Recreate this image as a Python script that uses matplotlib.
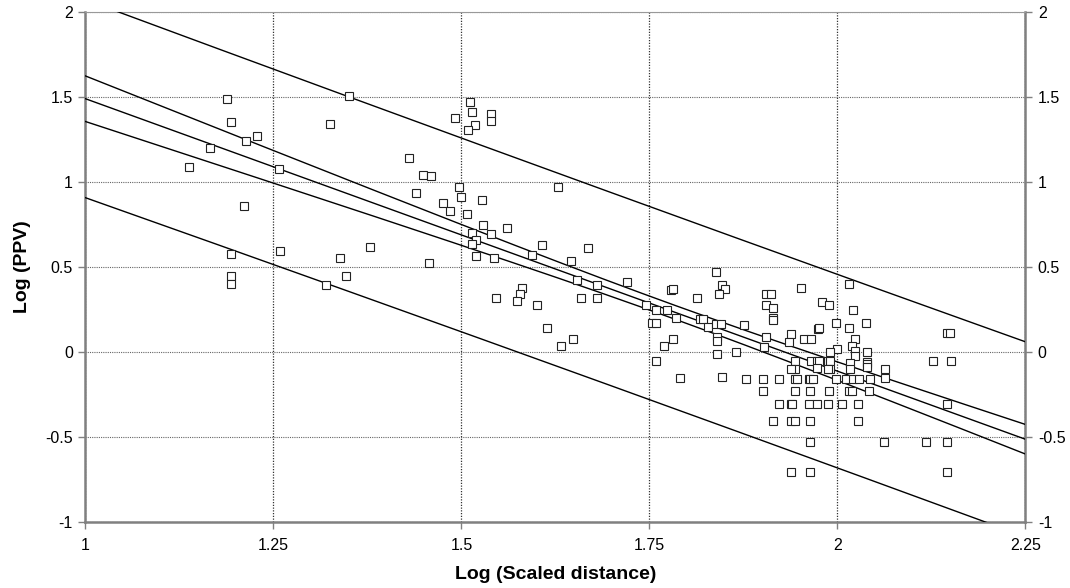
import numpy as np
import matplotlib
matplotlib.use("Agg")
import matplotlib.pyplot as plt
from matplotlib import font_manager

# ---------------- data ----------------
log_sd = [
    1.188, 1.194, 1.228, 1.214, 1.165, 1.138, 1.257, 1.350, 1.325, 1.211, 1.194, 1.259, 1.194, 1.194,
    1.339, 1.379, 1.347, 1.320,
    1.512, 1.514, 1.492, 1.540, 1.540, 1.518, 1.509, 1.430, 1.449, 1.459, 1.629, 1.497, 1.500, 1.440,
    1.476, 1.485, 1.527, 1.507, 1.529, 1.561, 1.540, 1.514, 1.520, 1.514, 1.520, 1.544, 1.457, 1.607,
    1.594, 1.669, 1.646, 1.654, 1.680, 1.720, 1.581, 1.578, 1.574, 1.546, 1.601, 1.659, 1.680, 1.614,
    1.648, 1.632, 1.746, 1.759, 1.774, 1.754, 1.759, 1.769, 1.782, 1.759, 1.791, 1.779, 1.782, 1.814,
    1.786,
    1.838, 1.847, 1.851, 1.842, 1.818, 1.822, 1.828, 1.838, 1.845, 1.876, 1.840, 1.840, 1.840, 1.865,
    1.846, 1.879,
    1.905, 1.912, 1.905, 1.914, 1.914, 1.914, 1.952, 1.980, 1.989, 2.016, 2.021, 1.998, 2.015, 2.038,
    1.974, 1.975, 2.024, 1.905, 1.902, 1.939, 1.936, 1.956, 1.965, 2.000, 1.990, 2.019, 2.024, 2.024,
    2.040, 2.040, 2.040, 2.040, 1.944, 1.944, 1.939, 1.965, 1.973, 1.976, 1.973, 1.987, 1.990, 1.990,
    1.987, 2.017, 2.017, 2.063, 2.063, 1.901, 1.923, 1.944, 1.947, 1.962, 1.964, 1.968, 1.998, 2.011,
    2.021, 2.029, 2.044, 1.901, 1.944, 1.963, 1.989, 2.015, 2.020, 2.042, 1.923, 1.938, 1.940, 1.962,
    1.973, 1.987, 2.006, 2.028, 2.146, 1.914, 1.938, 1.944, 1.963, 2.027, 1.963, 2.062, 2.118, 2.146,
    1.938, 1.963, 2.146, 2.146, 2.150, 2.127, 2.151,
]
log_ppv = [
    1.487, 1.353, 1.269, 1.239, 1.198, 1.085, 1.076, 1.502, 1.339, 0.857, 0.573, 0.594, 0.445, 0.396,
    0.551, 0.614, 0.445, 0.394,
    1.467, 1.410, 1.376, 1.396, 1.359, 1.332, 1.304, 1.139, 1.041, 1.034, 0.971, 0.969, 0.912, 0.933,
    0.877, 0.829, 0.892, 0.812, 0.743, 0.730, 0.694, 0.700, 0.659, 0.635, 0.565, 0.551, 0.524, 0.629,
    0.569, 0.608, 0.535, 0.422, 0.394, 0.408, 0.373, 0.339, 0.296, 0.316, 0.273, 0.316, 0.316, 0.137,
    0.075, 0.033, 0.273, 0.245, 0.245, 0.167, 0.167, 0.033, 0.075, -0.053, -0.153, 0.361, 0.371, 0.316,
    0.198,
    0.471, 0.392, 0.371, 0.338, 0.192, 0.192, 0.145, 0.165, 0.165, 0.159, 0.088, 0.065, -0.012, -0.004,
    -0.147, -0.161,
    0.338, 0.338, 0.275, 0.259, 0.196, 0.185, 0.373, 0.292, 0.275, 0.396, 0.245, 0.167, 0.137, 0.167,
    0.133, 0.137, 0.075, 0.088, 0.029, 0.102, 0.057, 0.075, 0.075, 0.018, -0.004, 0.034, 0.004, -0.024,
    -0.004, -0.059, -0.072, -0.090, -0.053, -0.102, -0.102, -0.053, -0.053, -0.053, -0.096, -0.053, -0.053, -0.100,
    -0.100, -0.065, -0.104, -0.102, -0.157, -0.159, -0.159, -0.159, -0.159, -0.159, -0.159, -0.159, -0.159, -0.159,
    -0.159, -0.159, -0.159, -0.231, -0.231, -0.231, -0.231, -0.231, -0.231, -0.229, -0.310, -0.310, -0.310, -0.310,
    -0.310, -0.310, -0.310, -0.310, -0.310, -0.410, -0.410, -0.410, -0.410, -0.410, -0.529, -0.529, -0.529, -0.529,
    -0.706, -0.706, -0.706, 0.110, 0.110, -0.053, -0.053,
]

# regression line and bands
fit_intercept = 3.090
fit_slope = -1.602
conf_a = 0.00165      # squared half-width of confidence band at centre
conf_b = 0.0268
conf_centre = 1.78
pred_var = 0.321      # extra variance of prediction band

x_ticks = [1, 1.25, 1.5, 1.75, 2, 2.25]
x_ticklabels = ["1", "1.25", "1.5", "1.75", "2", "2.25"]
y_ticks = [-1, -0.5, 0, 0.5, 1, 1.5, 2]
y_ticklabels = ["-1", "-0.5", "0", "0.5", "1", "1.5", "2"]

# ---------------- style ----------------
tick_font = "Liberation Sans"
label_font = "Liberation Sans"

fig = plt.figure(figsize=(10.70, 5.88), dpi=100)
ax = fig.add_axes([0.0799, 0.1127, 0.8783, 0.8674])

xs = np.linspace(1.0, 2.25, 300)
centre = fit_intercept + fit_slope * xs
hc = np.sqrt(conf_a + conf_b * (xs - conf_centre) ** 2)
hp = np.sqrt(pred_var + hc ** 2)
for yy in (centre, centre + hc, centre - hc, centre + hp, centre - hp):
    ax.plot(xs, yy, color="black", lw=1.0, zorder=3)

ax.plot(log_sd, log_ppv, linestyle="none", marker="s", markersize=5.6,
        markerfacecolor="white", markeredgecolor="#222222", markeredgewidth=0.8, zorder=4)

ax.set_xlim(1, 2.25)
ax.set_ylim(-1, 2)
ax.set_xticks(x_ticks)
ax.set_xticklabels(x_ticklabels)
ax.set_yticks(y_ticks)
ax.set_yticklabels(y_ticklabels)

ax.xaxis.grid(True, color="#333333", linestyle=(0, (1, 1.2)), linewidth=0.9, zorder=0)
ax.yaxis.grid(True, color="#666666", linestyle=(0, (1, 1)), linewidth=0.8, zorder=0)

for side in ("left", "right", "bottom"):
    ax.spines[side].set_color("#808080")
    ax.spines[side].set_linewidth(1.8)
ax.spines["top"].set_color("#999999")
ax.spines["top"].set_linewidth(0.8)

ax.tick_params(axis="both", direction="out", length=5, width=1, color="#808080",
               labelsize=11.5, pad=4)
ax.tick_params(axis="y", right=True, labelright=True)
for lab in ax.get_xticklabels() + ax.get_yticklabels():
    lab.set_fontfamily(tick_font)
ax.tick_params(axis="x", pad=7)

ax.set_xlabel("Log (Scaled distance)", fontsize=14, fontweight="bold",
              fontfamily=label_font, labelpad=9)
ax.set_ylabel("Log (PPV)", fontsize=14, fontweight="bold",
              fontfamily=label_font, labelpad=10)

fig.savefig("out.png", dpi=100)
